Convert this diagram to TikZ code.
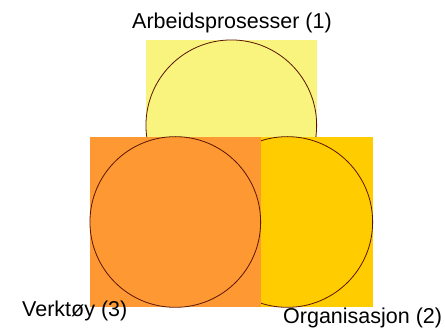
\documentclass[tikz,border=0pt]{standalone}
\usepackage{fontspec}
\setmainfont{Liberation Sans}
\usepackage{tikz}
\usetikzlibrary{positioning}

\definecolor{paleyellow}{RGB}{248,244,126}
\definecolor{warmorange}{RGB}{253,152,51}
\definecolor{goldyellow}{RGB}{255,204,0}
\definecolor{rimbrown}{RGB}{90,20,0}

\begin{document}
\begin{tikzpicture}[x=1pt,y=-1pt,
  square/.style={rectangle,inner sep=0pt,minimum size=170.7pt},
  ring/.style={circle,draw=rimbrown,line width=0.8pt,inner sep=0pt,minimum size=170.7pt},
  lbl/.style={inner sep=0pt,font=\fontsize{21.5}{24}\selectfont}]
\useasboundingbox (0,0) rectangle (445,328);

%work processes
\node[square,fill=paleyellow] (procsq) at (231.3,125.3) {};
\node[ring] (proc) at (procsq.center) {};
%organisation
\node[square,fill=goldyellow] (orgsq) at (287.3,222) {};
\node[ring] (org) at (orgsq.center) {};
%tools
\node[square,fill=warmorange] (toolsq) at (175.3,222) {};
\node[ring] (tool) at (toolsq.center) {};

%labels
\node[lbl,anchor=base] (proclbl) at (232,28.3) {Arbeidsprosesser (1)};
\node[lbl,anchor=base west] (toollbl) at (22,317) {Verktøy (3)};
\node[lbl,anchor=base west] (orglbl) at (283,324) {Organisasjon (2)};

\end{tikzpicture}
\end{document}
